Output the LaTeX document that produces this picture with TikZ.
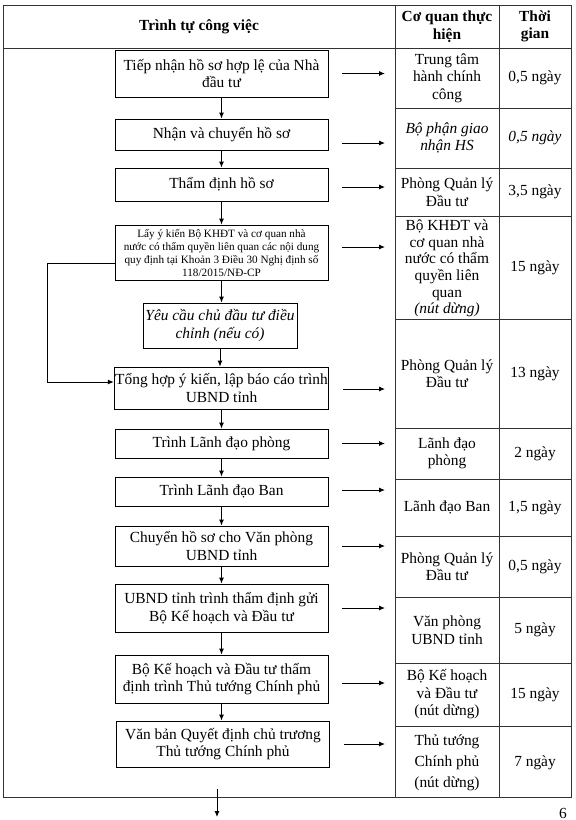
\documentclass[tikz,border=0pt]{standalone}
\usepackage{fontspec}
\setmainfont{Liberation Serif}
\usetikzlibrary{arrows.meta}

\newcommand{\stdsize}{\fontsize{15.4}{17.5}\selectfont}

\tikzset{
  stepbox/.style={draw, line width=0.9pt, minimum width=213pt, align=center, inner sep=1pt},
  cell/.style={align=center, inner sep=0pt},
  grid/.style={line width=0.8pt, black!80},
  flow/.style={-{Latex[length=6pt,width=5pt]}, line width=0.9pt},
}

\begin{document}
\begin{tikzpicture}[x=1pt,y=-1pt,font=\stdsize]
  \useasboundingbox (0,0) rectangle (576,820);
  % table
  \draw[grid] (3,5) rectangle (571,797);
  \draw[grid] (3,48) -- (571,48);
  \draw[grid] (395,5) -- (395,797) (499,5) -- (499,797);
  \foreach \y in {108,168,216,319,428,479,536,597,663,726} {%
    \draw[grid] (395,\y) -- (571,\y);
  }
  % header
  \node[cell, font=\stdsize\bfseries] (h1) at (199,26.5) {Trình tự công việc};
  \node[cell, font=\stdsize\bfseries] (h2) at (447,26.5) {Cơ quan thực\\hiện};
  \node[cell, font=\stdsize\bfseries] (h3) at (535,26.5) {Thời\\gian};
  % steps
  \node[stepbox, minimum height=47pt] (b1) at (221.5,73.5) {Tiếp nhận hồ sơ hợp lệ của Nhà\\đầu tư};
  \node[stepbox, minimum height=31pt] (b2) at (221.5,134.5) {Nhận và chuyển hồ sơ};
  \node[stepbox, minimum height=33pt] (b3) at (221.5,184.5) {Thẩm định hồ sơ};
  \node[stepbox, minimum height=55pt, inner ysep=0pt, font=\fontsize{11.2}{13}\selectfont] (b4) at (221.5,252.5)
    {Lấy ý kiến Bộ KHĐT và cơ quan nhà\\nước có thẩm quyền liên quan các nội dung\\quy định tại Khoản 3 Điều 30 Nghị định số\\118/2015/NĐ-CP};
  \node[stepbox, minimum width=154pt, minimum height=45pt, font=\stdsize\itshape] (b5) at (220,325.5)
    {Yêu cầu chủ đầu tư điều\\chỉnh (nếu có)};
  \node[stepbox, minimum height=42pt] (b6) at (221.5,388) {Tổng hợp ý kiến, lập báo cáo trình\\UBND tỉnh};
  \node[stepbox, minimum height=29pt] (b7) at (221.5,443.5) {Trình Lãnh đạo phòng};
  \node[stepbox, minimum height=29pt] (b8) at (221.5,491.5) {Trình Lãnh đạo Ban};
  \node[stepbox, minimum height=40pt] (b9) at (221.5,546) {Chuyển hồ sơ cho Văn phòng\\UBND tỉnh};
  \node[stepbox, minimum height=48pt] (b10) at (221.5,608) {UBND tỉnh trình thẩm định gửi\\Bộ Kế hoạch và Đầu tư};
  \node[stepbox, minimum height=48pt] (b11) at (221.5,679) {Bộ Kế hoạch và Đầu tư thẩm\\định trình Thủ tướng Chính phủ};
  \node[stepbox, minimum height=46pt] (b12) at (223,744) {Văn bản Quyết định chủ trương\\Thủ tướng Chính phủ};
  % agencies
  \node[cell] (a1) at (447,78) {Trung tâm\\hành chính\\công};
  \node[cell, font=\stdsize\itshape] (a2) at (447,138) {Bộ phận giao\\nhận HS};
  \node[cell] (a3) at (447,192) {Phòng Quản lý\\Đầu tư};
  \node[cell, font=\fontsize{15.4}{16.6}\selectfont] (a4) at (447,268.5) {Bộ KHĐT và\\cơ quan nhà\\nước có thẩm\\quyền liên\\quan\\\textit{(nút dừng)}};
  \node[cell] (a5) at (447,373.5) {Phòng Quản lý\\Đầu tư};
  \node[cell] (a6) at (447,453.5) {Lãnh đạo\\phòng};
  \node[cell] (a7) at (447,507.5) {Lãnh đạo Ban};
  \node[cell] (a8) at (447,566.5) {Phòng Quản lý\\Đầu tư};
  \node[cell] (a9) at (447,630) {Văn phòng\\UBND tỉnh};
  \node[cell] (a10) at (447,694.5) {Bộ Kế hoạch\\và Đầu tư\\(nút dừng)};
  \node[cell] (a11) at (447,763) {Thủ tướng\\[3.5pt]Chính phủ\\[3.5pt](nút dừng)};
  % days
  \node[cell] (t1) at (535,78) {0,5 ngày};
  \node[cell, font=\stdsize\itshape] (t2) at (535,138) {0,5 ngày};
  \node[cell] (t3) at (535,192) {3,5 ngày};
  \node[cell] (t4) at (535,267.5) {15 ngày};
  \node[cell] (t5) at (535,373.5) {13 ngày};
  \node[cell] (t6) at (535,453.5) {2 ngày};
  \node[cell] (t7) at (535,507.5) {1,5 ngày};
  \node[cell] (t8) at (535,566.5) {0,5 ngày};
  \node[cell] (t9) at (535,630) {5 ngày};
  \node[cell] (t10) at (535,694.5) {15 ngày};
  \node[cell] (t11) at (535,763) {7 ngày};
  \node[cell] (page) at (563,813) {6};
  % connectors
  \foreach \a/\c in {b1/b2,b2/b3,b3/b4,b4/b5,b5/b6,b6/b7,b7/b8,b8/b9,b9/b10,b10/b11,b11/b12} {%
    \draw[flow] (\a.south) -- (\a.south |- \c.north);
  }
  \coordinate (colA) at (395,0);
  \foreach \b/\dy in {b1/0,b2/-8.5,b3/-2.5,b4/5.5,b6/-1,b7/0,b8/1.5,b9/0,b10/0,b11/-4,b12/0} {%
    \draw[flow, shorten <=14pt, shorten >=10pt] ([yshift=\dy pt]\b.east) -- ([yshift=\dy pt]\b.east -| colA);
  }
  % back loop to the summary step
  \coordinate (loopx) at (47,0);
  \draw[flow] ([yshift=-10.5pt]b4.west) -- ([yshift=-10.5pt]b4.west -| loopx) |- ([yshift=6pt]b6.west);
  \coordinate (outA) at (217,789);
  \coordinate (outB) at (217,817);
  \draw[flow] (outA) -- (outB);
\end{tikzpicture}
\end{document}
